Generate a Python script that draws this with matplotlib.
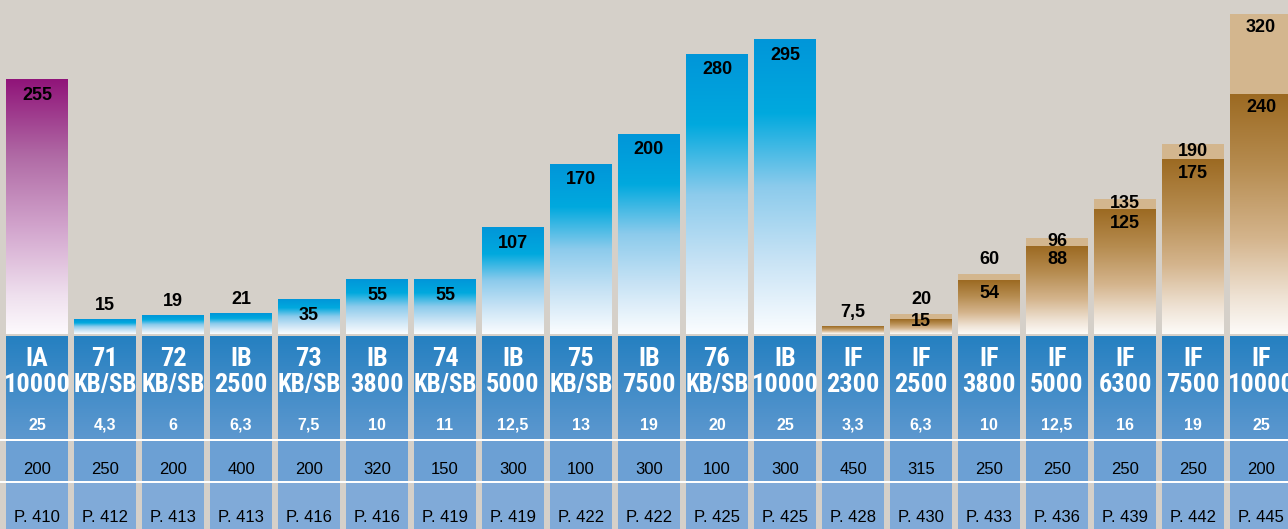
import numpy as np
import matplotlib
matplotlib.use("Agg")
import matplotlib.pyplot as plt
from matplotlib import font_manager
from matplotlib.colors import to_rgb

# data
names1 = ['IA', '71', '72', 'IB', '73', 'IB', '74', 'IB', '75', 'IB', '76', 'IB',
          'IF', 'IF', 'IF', 'IF', 'IF', 'IF', 'IF']
names2 = ['10000', 'KB/SB', 'KB/SB', '2500', 'KB/SB', '3800', 'KB/SB', '5000', 'KB/SB',
          '7500', 'KB/SB', '10000', '2300', '2500', '3800', '5000', '6300', '7500', '10000']
power = ['25', '4,3', '6', '6,3', '7,5', '10', '11', '12,5', '13', '19', '20', '25',
         '3,3', '6,3', '10', '12,5', '16', '19', '25']
row2 = [200, 250, 200, 400, 200, 320, 150, 300, 100, 300, 100, 300,
        450, 315, 250, 250, 250, 250, 200]
pages = [410, 412, 413, 413, 416, 416, 419, 419, 422, 422, 425, 425,
         428, 430, 433, 436, 439, 442, 445]
values = [255, 15, 19, 21, 35, 55, 55, 107, 170, 200, 280, 295,
          7.5, 15, 54, 88, 125, 175, 240]
upper = [None] * 12 + [None, 20, 60, 96, 135, 190, 320]
kinds = ['IA'] + ['IB'] * 11 + ['IF'] * 7

BG = '#d5d0c9'
ramps = {
    'IA': [(0, '#901479'), (0.3, '#b06aa5'), (0.6, '#d4a8cf'), (0.85, '#efe0ee'), (1, '#fdfafd')],
    'IB': [(0, '#0096d9'), (0.25, '#00a9de'), (0.5, '#8ccbec'), (0.75, '#c8e3f5'), (1, '#fbfdff')],
    'IF': [(0, '#9c6a22'), (0.3, '#b68c50'), (0.6, '#d4b48c'), (0.85, '#efe3d5'), (1, '#fdfbf8')],
}
TAN = '#d3b68e'

# condensed face for the model names if there is one
have = {f.name for f in font_manager.fontManager.ttflist}
if 'Liberation Sans Narrow' in have:
    narrow, big, kb = ['Liberation Sans Narrow', 'DejaVu Sans'], 20, 19
elif 'Roboto Condensed' in have:
    narrow, big, kb = ['Roboto Condensed', 'DejaVu Sans'], 19, 18
else:
    narrow, big, kb = ['Liberation Sans', 'DejaVu Sans'], 15, 13.5


def gradient(stops, n=256):
    t = np.linspace(0, 1, n)
    pos = [s[0] for s in stops]
    cols = np.array([to_rgb(s[1]) for s in stops])
    img = np.stack([np.interp(t, pos, cols[:, k]) for k in range(3)], axis=1)
    return img[:, None, :]


def fmt(v):
    return ('%g' % v).replace('.', ',')


fig = plt.figure(figsize=(12.88, 5.29), dpi=100, facecolor=BG)
ax = fig.add_axes([0, 0, 1, 1])
ax.set_facecolor(BG)

hw = 31 / 68
lab = dict(ha='center', va='center', fontsize=13, fontweight='bold',
           family=['Liberation Sans', 'DejaVu Sans'], color='black', zorder=5)

for i, v in enumerate(values):
    img = gradient(ramps[kinds[i]])
    if upper[i] is not None:
        ax.add_patch(plt.Rectangle((i - hw, v), 2 * hw, upper[i] - v, color=TAN, lw=0, zorder=2))
    ax.imshow(img, extent=[i - hw, i + hw, 0, v], origin='upper', aspect='auto',
              interpolation='bilinear', zorder=2)

    # value labels
    if upper[i] is None:
        y = v - 16 if v >= 30 else v + 14
        ax.text(i, y, fmt(v), **lab)
    else:
        ax.text(i, max(v - 14, 12), fmt(v), **lab)
        d = upper[i] - v
        y = upper[i] - min(14, d / 2) if d >= 8 else upper[i] + 14
        ax.text(i, y, fmt(upper[i]), **lab)

# table below the bars
head = gradient([(0, '#2580c1'), (1, '#5d98cf')])
for i in range(len(values)):
    ax.imshow(head, extent=[i - hw, i + hw, -105, -2], origin='upper', aspect='auto',
              interpolation='bilinear', zorder=2)
    ax.add_patch(plt.Rectangle((i - hw, -147), 2 * hw, 40, color='#6ca0d4', lw=0, zorder=2))
    ax.add_patch(plt.Rectangle((i - hw, -195), 2 * hw, 46, color='#80aad8', lw=0, zorder=2))
    ax.text(i, -25, names1[i], ha='center', va='center', color='white', fontsize=big,
            fontweight='bold', family=narrow, zorder=5)
    ax.text(i, -51, names2[i], ha='center', va='center', color='white',
            fontsize=kb if '/' in names2[i] else big,
            fontweight='bold', family=narrow, zorder=5)
    ax.text(i, -91, power[i], ha='center', va='center', color='white', fontsize=11.5,
            fontweight='bold', family=['Liberation Sans', 'DejaVu Sans'], zorder=5)
    ax.text(i, -136, str(row2[i]), ha='center', va='center', color='black', fontsize=12,
            family=['Liberation Sans', 'DejaVu Sans'], zorder=5)
    ax.text(i, -183, 'P. %d' % pages[i], ha='center', va='center', color='black', fontsize=12,
            family=['Liberation Sans', 'DejaVu Sans'], zorder=5)

ax.axhspan(-107, -105, color='white', lw=0, zorder=3)
ax.axhspan(-149, -147, color='white', lw=0, zorder=3)

ax.set_xlim(-37 / 68, (1288 - 37) / 68)
ax.set_ylim(-195, 334)
ax.axis('off')

fig.savefig('out.png', dpi=100, facecolor=BG)
